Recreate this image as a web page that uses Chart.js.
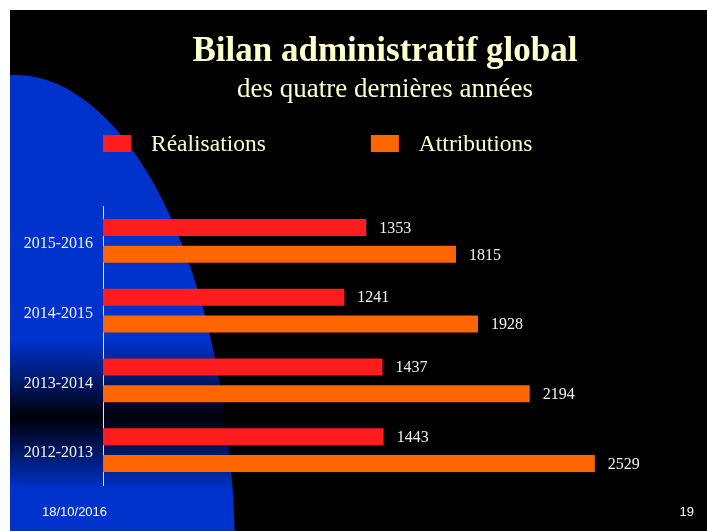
<!DOCTYPE html>
<html lang="fr">
<head>
<meta charset="utf-8">
<title>Bilan administratif global</title>
<script src="https://cdn.jsdelivr.net/npm/chart.js@4.4.0/dist/chart.umd.min.js"></script>
<style>
  html, body { margin: 0; padding: 0; background: #fff; }
  #wrap { width: 707px; height: 531px; position: relative; }
</style>
</head>
<body>
<div id="wrap"><canvas id="bilanChart"></canvas></div>
<script>
// Années, du haut vers le bas
const annees = ['2015-2016', '2014-2015', '2013-2014', '2012-2013'];
const realisations = [1353, 1241, 1437, 1443];
const attributions = [1815, 1928, 2194, 2529];
const seriesNames = ['Réalisations', 'Attributions'];
const seriesColors = ['#ff1c1c', '#ff6600'];
const dateSlide = '18/10/2016';
const numeroSlide = '19';

const serif = '"Liberation Serif", "Times New Roman", Times, serif';
const sans = '"Liberation Sans", Arial, Helvetica, sans-serif';
const textYellow = '#ffffcc';

// Fond de la diapo : marge blanche, fond noir, grande ellipse bleue avec bande sombre
const slideBackground = {
    id: 'slideBackground',
    beforeDraw(chart) {
        const ctx = chart.ctx;
        const w = chart.width, h = chart.height;
        ctx.save();
        ctx.fillStyle = '#ffffff';
        ctx.fillRect(0, 0, w, h);
        ctx.fillStyle = '#000000';
        ctx.fillRect(10, 10, w - 10, h - 10);
        ctx.beginPath();
        ctx.rect(10, 10, w - 10, h - 10);
        ctx.clip();

        const grad = ctx.createLinearGradient(0, 0, 0, h);
        grad.addColorStop(0, '#0033cc');
        grad.addColorStop(340 / 531, '#0033cc');
        grad.addColorStop(385 / 531, '#001660');
        grad.addColorStop(417 / 531, '#000008');
        grad.addColorStop(450 / 531, '#001660');
        grad.addColorStop(490 / 531, '#0033cc');
        grad.addColorStop(1, '#0033cc');
        ctx.fillStyle = grad;
        ctx.beginPath();
        ctx.ellipse(15, 560, 220, 485, 0, 0, Math.PI * 2);
        ctx.fill();
        ctx.restore();
    }
};

// Valeurs au bout des barres, légende et pied de page
const slideOverlay = {
    id: 'slideOverlay',
    afterDatasetsDraw(chart) {
        const ctx = chart.ctx;
        const area = chart.chartArea;
        ctx.save();

        ctx.font = '16px ' + serif;
        ctx.fillStyle = '#f2f2f2';
        ctx.textBaseline = 'middle';
        ctx.textAlign = 'left';
        chart.data.datasets.forEach((ds, i) => {
            chart.getDatasetMeta(i).data.forEach((bar, j) => {
                ctx.fillText(String(ds.data[j]), bar.x + 13, bar.y + 1);
            });
        });

        // légende
        ctx.font = '23.5px ' + serif;
        ctx.textBaseline = 'alphabetic';
        let x = area.left;
        chart.data.datasets.forEach(ds => {
            ctx.fillStyle = ds.backgroundColor;
            ctx.fillRect(x, 135, 28, 17);
            ctx.fillStyle = textYellow;
            ctx.fillText(ds.label, x + 48, 151);
            x += 48 + ctx.measureText(ds.label).width + 105;
        });

        // pied de page
        ctx.font = '13px ' + sans;
        ctx.fillStyle = '#ffffff';
        ctx.fillText(dateSlide, 42, 516);
        ctx.textAlign = 'right';
        ctx.fillText(numeroSlide, 694, 516);
        ctx.restore();
    }
};

new Chart(document.getElementById('bilanChart'), {
    type: 'bar',
    data: {
        labels: annees,
        datasets: [
            { label: seriesNames[0], data: realisations, backgroundColor: seriesColors[0] },
            { label: seriesNames[1], data: attributions, backgroundColor: seriesColors[1] }
        ]
    },
    options: {
        indexAxis: 'y',
        responsive: true,
        maintainAspectRatio: false,
        animation: false,
        layout: { padding: { left: 10, right: 40, top: 0, bottom: 46 } },
        datasets: {
            bar: { categoryPercentage: 0.774, barPercentage: 0.63 }
        },
        plugins: {
            legend: { display: false },
            tooltip: { enabled: false },
            title: {
                display: true,
                fullSize: false,
                text: 'Bilan administratif global',
                color: textYellow,
                font: { family: serif, size: 35, weight: 'bold', lineHeight: 1 },
                padding: { top: 34.5, bottom: 0 }
            },
            subtitle: {
                display: true,
                fullSize: false,
                text: 'des quatre dernières années',
                color: textYellow,
                font: { family: serif, size: 27, lineHeight: 1 },
                padding: { top: 6.5, bottom: 103 }
            }
        },
        scales: {
            x: { display: false, min: 0, max: 2900 },
            y: {
                grid: { display: false, drawTicks: false },
                border: { display: true, color: '#e6e6e6', width: 1 },
                ticks: {
                    color: '#f2f2f2',
                    font: { family: serif, size: 16 },
                    padding: 10,
                    labelOffset: 3
                },
                afterFit(scale) { scale.width = 93; }
            }
        }
    },
    plugins: [slideBackground, slideOverlay]
});
</script>
</body>
</html>
